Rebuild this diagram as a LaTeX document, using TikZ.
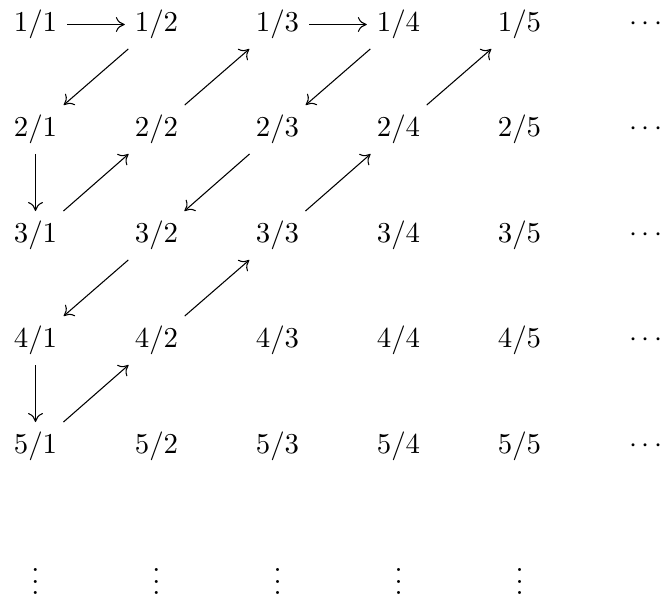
\documentclass[tikz,border=0pt]{standalone}
\usetikzlibrary{arrows.meta}
\begin{document}
\begin{tikzpicture}[x=0.347pt,y=-0.347pt,
  ent/.style={inner sep=3.3pt},
  arr/.style={-{Computer Modern Rightarrow[length=3.1pt,width=5.2pt]}, line width=0.37pt}]
\useasboundingbox (0,0) rectangle (665,598);
\foreach \r/\y in {1/24.5,2/129.5,3/235.5,4/340.5,5/446.5}{
  \foreach \c/\x in {1/35.5,2/156.5,3/277.5,4/398.5,5/519.5}{
    \node[ent] (n\r\c) at (\x,\y) {$\r/\c$};
  }
  \node[ent] (h\r) at (646,\y) {$\cdots$};
}
\foreach \c/\x in {1/35.5,2/156.5,3/277.5,4/398.5,5/519.5}{
  \node[ent] (v\c) at (\x,573) {$\vdots$};
}
\draw[arr] (n11) -- (n12);
\draw[arr] (n12) -- (n21);
\draw[arr] (n21) -- (n31);
\draw[arr] (n31) -- (n22);
\draw[arr] (n22) -- (n13);
\draw[arr] (n13) -- (n14);
\draw[arr] (n14) -- (n23);
\draw[arr] (n23) -- (n32);
\draw[arr] (n32) -- (n41);
\draw[arr] (n41) -- (n51);
\draw[arr] (n51) -- (n42);
\draw[arr] (n42) -- (n33);
\draw[arr] (n33) -- (n24);
\draw[arr] (n24) -- (n15);
\end{tikzpicture}
\end{document}
